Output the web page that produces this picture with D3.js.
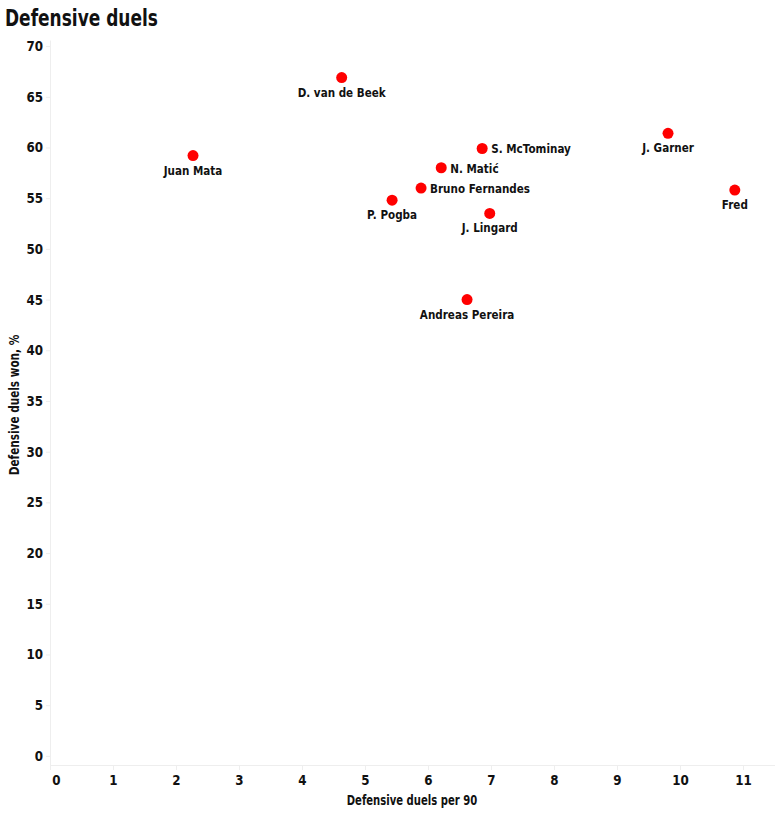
<!DOCTYPE html>
<html><head><meta charset="utf-8">
<script src="https://cdn.jsdelivr.net/npm/d3@7"></script>
<style>
body{margin:0;background:#fff;}
text{font-family:"DejaVu Sans",sans-serif;font-weight:bold;fill:#111;}
</style></head>
<body><svg id="c" width="775" height="816"></svg>
<script>
const players = ["Juan Mata","D. van de Beek","S. McTominay","N. Matić","Bruno Fernandes","P. Pogba","J. Lingard","Andreas Pereira","J. Garner","Fred"];
const duelsPer90 = [2.27,4.63,6.86,6.21,5.89,5.43,6.98,6.62,9.81,10.87];
const duelsWonPct = [59.2,66.9,59.9,58.0,56.0,54.8,53.5,45.0,61.4,55.8];
const labelSide = ["below","below","right","right","right","below","below","below","below","below"];
const xTicks = [0,1,2,3,4,5,6,7,8,9,10,11];
const yTicks = [0,5,10,15,20,25,30,35,40,45,50,55,60,65,70];

const svg = d3.select("#c");
const x = d3.scaleLinear().domain([0,11.5]).range([50,774.5]);
const y = d3.scaleLinear().domain([-0.9,70.6]).range([765,40]);

function ctext(g, tx, ty, s, size, str, anchor, rot){
  return g.append("text")
    .attr("transform",`translate(${tx},${ty})${rot?` rotate(${rot})`:""} scale(${s},1)`)
    .attr("text-anchor",anchor||"start").style("font-size",size+"px").text(str);
}

ctext(svg,5,26,0.74,23,"Defensive duels");

const gx = svg.append("g").attr("transform","translate(0,765)")
  .call(d3.axisBottom(x).tickValues(xTicks).tickSize(5).tickPadding(5).tickSizeOuter(0));
const gy = svg.append("g").attr("transform","translate(50,0)")
  .call(d3.axisLeft(y).tickValues(yTicks).tickSize(4).tickPadding(3).tickSizeOuter(0));
const ts = 0.85;
[gx,gy].forEach(g=>{
  g.selectAll(".domain").attr("stroke","#eeeeee");
  g.selectAll(".tick line").attr("stroke","#eeeeee");
  g.selectAll(".tick text").style("font-size","14px").style("font-family",null).attr("fill","#111")
    .attr("transform",`scale(${ts},1)`)
    .attr("x",function(){return (+d3.select(this).attr("x")||0)/ts;});
});
gx.selectAll(".tick text").filter(d=>d===0).attr("x",6/ts);

ctext(svg,412,805,0.72,14,"Defensive duels per 90","middle");
ctext(svg,19,405,0.75,14,"Defensive duels won, %","middle",-90);

const data = players.map((p,i)=>({p,x:duelsPer90[i],y:duelsWonPct[i],s:labelSide[i]}));
svg.append("g").selectAll("circle").data(data).join("circle")
  .attr("cx",d=>x(d.x)).attr("cy",d=>y(d.y)).attr("r",5.5).attr("fill","#ff0000");
svg.append("g").selectAll("text").data(data).join("text")
  .attr("transform",d=>{
    const tx = d.s==="right"? x(d.x)+9 : x(d.x);
    const ty = d.s==="right"? y(d.y)+5 : y(d.y)+19;
    return `translate(${tx},${ty}) scale(0.8,1)`;
  })
  .attr("text-anchor",d=>d.s==="right"?"start":"middle")
  .style("font-size","13px").text(d=>d.p);
</script></body></html>
